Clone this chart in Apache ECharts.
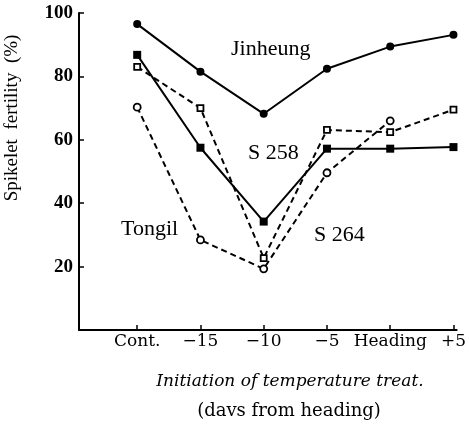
<!DOCTYPE html>
<html><head><meta charset="utf-8">
<script src="https://cdn.jsdelivr.net/npm/echarts@6/dist/echarts.min.js"></script>
<style>html,body{margin:0;padding:0;background:#fff}#c{width:469px;height:432px}</style>
</head><body><div id="c"></div>
<script>
const categories = ['Cont.', '\u221215', '\u221210', '\u22125', 'Heading', '+5'];
const yTicks = [20, 40, 60, 80, 100];
const jinheung = [96.5, 81.5, 68.2, 82.4, 89.4, 93.1];
const s258 = [86.8, 57.5, 34.2, 57.2, 57.2, 57.7];
const s264 = [83.0, 70.0, 22.7, 63.1, 62.4, 69.5];
const tongil = [70.3, 28.4, 19.3, 49.6, 66.0, null];

const pos = categories.map((c, i) => i + 1);
const toData = arr => arr.map((v, i) => [pos[i], v]);
const serif = 'Liberation Serif';
const wide = 'DejaVu Serif';
const chart = echarts.init(document.getElementById('c'), null, {renderer: 'canvas'});
const solid = {color: '#000', width: 2, type: 'solid'};
const dashed = {color: '#000', width: 2, type: [6, 4]};
chart.setOption({
  animation: false,
  backgroundColor: '#fff',
  grid: {left: 79, right: 12, top: 13, bottom: 102},
  xAxis: {
    type: 'value', min: 0.08, max: 6.05,
    axisLine: {show: true, lineStyle: {color: '#000', width: 2}},
    axisTick: {show: true, inside: true, length: 5, customValues: pos, lineStyle: {color: '#000', width: 1.5}},
    splitLine: {show: false},
    axisLabel: {customValues: pos, formatter: v => categories[Math.round(v) - 1] || '', color: '#000',
      fontFamily: wide, fontSize: 17, margin: 3}
  },
  yAxis: {
    type: 'value', min: 0, max: 100, interval: 20,
    axisLine: {show: true, lineStyle: {color: '#000', width: 2}},
    axisTick: {show: true, inside: true, length: 5, lineStyle: {color: '#000', width: 1.5}},
    splitLine: {show: false},
    axisLabel: {formatter: v => yTicks.includes(v) ? String(v) : '', color: '#000',
      fontFamily: serif, fontSize: 19, fontWeight: 'bold', margin: 6}
  },
  series: [
    {name: 'Jinheung', type: 'line', data: toData(jinheung), lineStyle: solid,
      symbol: 'circle', symbolSize: 8, itemStyle: {color: '#000'}},
    {name: 'S 258', type: 'line', data: toData(s258), lineStyle: solid,
      symbol: 'rect', symbolSize: 8, itemStyle: {color: '#000'}},
    {name: 'S 264', type: 'line', data: toData(s264), lineStyle: dashed,
      symbol: 'rect', symbolSize: 6, itemStyle: {color: '#fff', borderColor: '#000', borderWidth: 1.8}},
    {name: 'Tongil', type: 'line', data: toData(tongil), lineStyle: dashed,
      symbol: 'circle', symbolSize: 7, itemStyle: {color: '#fff', borderColor: '#000', borderWidth: 1.8}}
  ],
  graphic: [
    {type: 'text', left: 231, top: 38, style: {text: 'Jinheung', font: '22px "Liberation Serif"', fill: '#000'}},
    {type: 'text', left: 248, top: 142, style: {text: 'S 258', font: '22px "Liberation Serif"', fill: '#000'}},
    {type: 'text', left: 121, top: 218, style: {text: 'Tongil', font: '22px "Liberation Serif"', fill: '#000'}},
    {type: 'text', left: 314, top: 224, style: {text: 'S 264', font: '22px "Liberation Serif"', fill: '#000'}},
    {type: 'text', x: 12, y: 118, rotation: Math.PI / 2,
      style: {text: 'Spikelet  fertility  (%)', font: '19px "Liberation Serif"', fill: '#000', align: 'center', verticalAlign: 'middle'}},
    {type: 'text', x: 290, y: 382, style: {text: 'Initiation of temperature treat.', font: 'italic 17px "DejaVu Serif"', fill: '#000', align: 'center', verticalAlign: 'middle'}},
    {type: 'text', x: 289, y: 411, style: {text: '(davs from heading)', font: '18px "DejaVu Serif"', fill: '#000', align: 'center', verticalAlign: 'middle'}}
  ]
});
</script></body></html>
